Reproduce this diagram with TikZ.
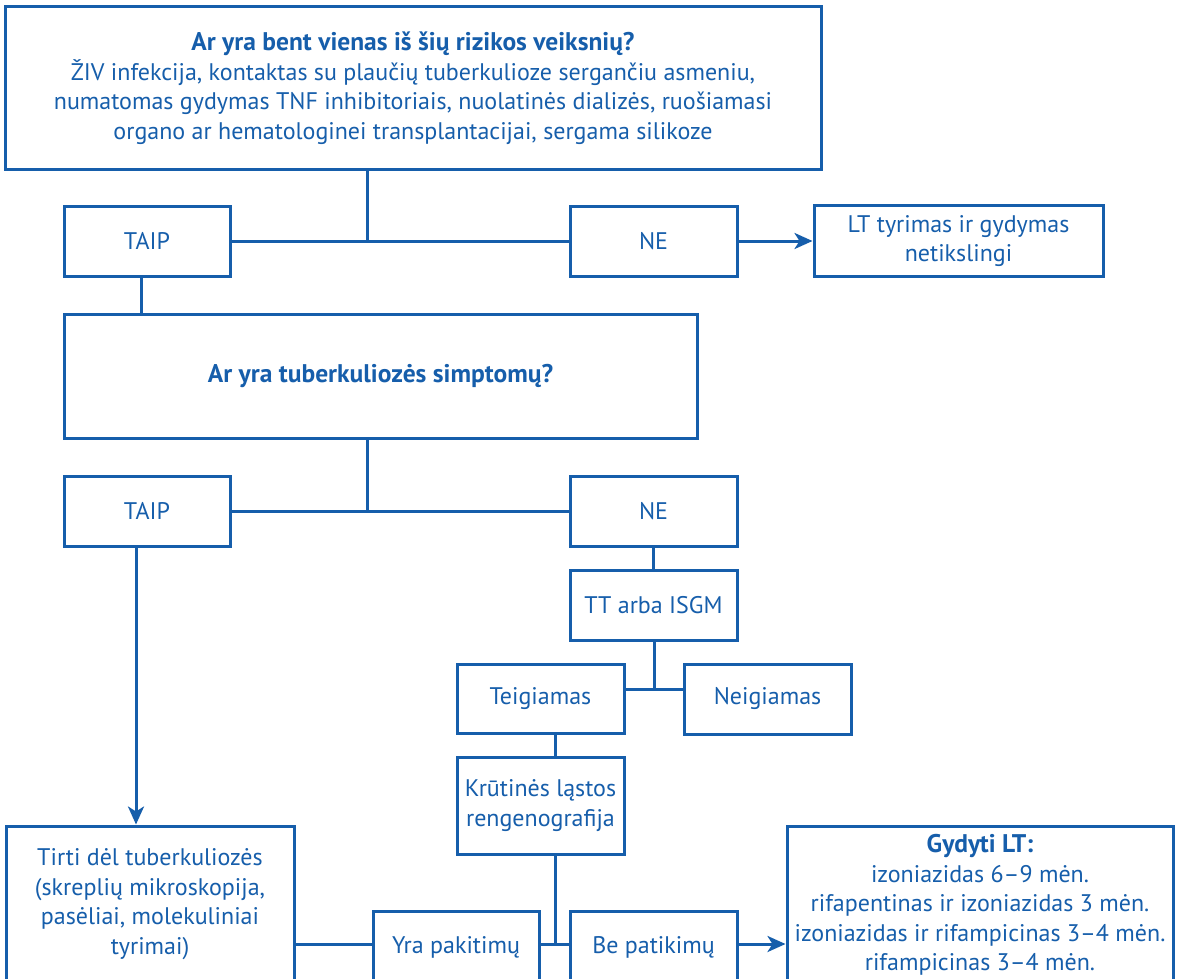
\documentclass[tikz,border=0pt]{standalone}
\usepackage{fontspec}
\setmainfont{PT Sans}
\usetikzlibrary{arrows.meta}
\definecolor{fblue}{HTML}{165EAB}
\newcommand{\bt}[1]{{\fontsize{25.5}{29.5}\selectfont\bfseries #1}}
\tikzset{
  box/.style={draw=fblue, line width=3pt, text=fblue, inner sep=0pt, align=center,
    font=\fontsize{24}{29.5}\selectfont},
  conn/.style={draw=fblue, line width=3pt},
  arr/.style={conn, -{Stealth[length=18pt,width=16pt,inset=5pt]}}
}
\begin{document}
\begin{tikzpicture}[x=1pt,y=-1pt]
\useasboundingbox (0,0) rectangle (1180,979);
\clip (0,0) rectangle (1180,979);
\fill[white] (0,0) rectangle (1180,979);
% boxes
\node[box, minimum width=816pt, minimum height=162pt] (top) at (413,88)
  {\bt{Ar yra bent vienas iš šių rizikos veiksnių?}\\
   ŽIV infekcija, kontaktas su plaučių tuberkulioze sergančiu asmeniu,\\
   numatomas gydymas TNF inhibitoriais, nuolatinės dializės, ruošiamasi\\
   organo ar hematologinei transplantacijai, sergama silikoze};
\node[box, minimum width=166pt, minimum height=70pt] (taip1) at (147,241) {TAIP};
\node[box, minimum width=167pt, minimum height=70pt] (ne1) at (653.5,241) {NE};
\node[box, minimum width=289pt, minimum height=71pt] (lt) at (958.5,241) {LT tyrimas ir gydymas\\netikslingi};
\node[box, minimum width=633pt, minimum height=124pt] (q2) at (380.5,376) {\bt{Ar yra tuberkuliozės simptomų?}};
\node[box, minimum width=166pt, minimum height=70pt] (taip2) at (147,511) {TAIP};
\node[box, minimum width=167pt, minimum height=70pt] (ne2) at (653.5,511) {NE};
\node[box, minimum width=167pt, minimum height=70pt] (tt) at (653.5,605) {TT arba ISGM};
\node[box, minimum width=167pt, minimum height=69pt] (teig) at (540.5,698.5) {Teigiamas};
\node[box, minimum width=167pt, minimum height=70pt] (neig) at (767.5,699) {Neigiamas};
\node[box, minimum width=167pt, minimum height=97pt] (krut) at (540.5,805.5) {Krūtinės ląstos\\rengenografija};
\node[box, minimum width=288pt, minimum height=156pt] (tirti) at (150,904)
  {Tirti dėl tuberkuliozės\\(skreplių mikroskopija,\\pasėliai, molekuliniai\\tyrimai)};
\node[box, minimum width=166pt, minimum height=72pt] (yra) at (456,947) {Yra pakitimų};
\node[box, minimum width=167pt, minimum height=72pt] (be) at (653.5,947) {Be patikimų};
\node[box, minimum width=386pt, minimum height=158pt] (gyd) at (980,905)
  {\bt{Gydyti LT:}\\izoniazidas 6–9 mėn.\\rifapentinas ir izoniazidas 3 mėn.\\izoniazidas ir rifampicinas 3–4 mėn.\\rifampicinas 3–4 mėn.};
% junction coordinates
\coordinate (j1) at (367,241);
\coordinate (j2) at (367,511);
\coordinate (j3) at (654,689);
\coordinate (j4) at (555,944);
\coordinate (c1) at (141,0);
\coordinate (c2) at (136,0);
% connectors
\draw[conn] (top.south -| j1) -- (j1);
\draw[conn] (taip1.east) -- (ne1.west);
\draw[arr] (ne1.east) -- (lt.west);
\draw[conn] (taip1.south -| c1) -- (q2.north -| c1);
\draw[conn] (q2.south -| j2) -- (j2);
\draw[conn] (taip2.east) -- (ne2.west);
\draw[arr] (taip2.south -| c2) -- (tirti.north -| c2);
\draw[conn] (ne2.south) -- (tt.north);
\draw[conn] (tt.south -| j3) -- (j3);
\draw[conn] (teig.east |- j3) -- (neig.west |- j3);
\draw[conn] (teig.south -| j4) -- (krut.north -| j4);
\draw[conn] (krut.south -| j4) -- (j4);
\draw[conn] (yra.east |- j4) -- (be.west |- j4);
\draw[conn] (tirti.east |- j4) -- (yra.west |- j4);
\draw[arr] (be.east |- j4) -- (gyd.west |- j4);
\end{tikzpicture}
\end{document}
